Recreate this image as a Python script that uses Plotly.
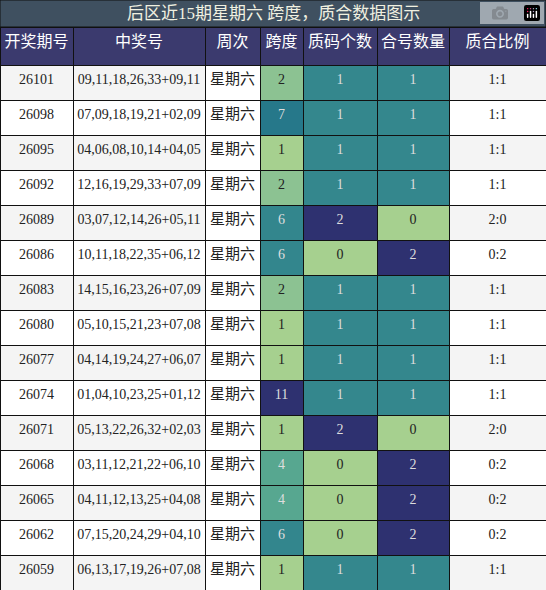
import plotly.graph_objects as go

headers = ["开奖期号", "中奖号", "周次", "跨度", "质码个数", "合号数量", "质合比例"]
periods = ["26101","26098","26095","26092","26089","26086","26083","26080","26077","26074","26071","26068","26065","26062","26059"]
numbers = ["09,11,18,26,33+09,11","07,09,18,19,21+02,09","04,06,08,10,14+04,05","12,16,19,29,33+07,09",
           "03,07,12,14,26+05,11","10,11,18,22,35+06,12","14,15,16,23,26+07,09","05,10,15,21,23+07,08",
           "04,14,19,24,27+06,07","01,04,10,23,25+01,12","05,13,22,26,32+02,03","03,11,12,21,22+06,10",
           "04,11,12,13,25+04,08","07,15,20,24,29+04,10","06,13,17,19,26+07,08"]
weekday = ["星期六"] * 15
span = [2,7,1,2,6,6,2,1,1,11,1,4,4,6,1]
prime = [1,1,1,1,2,0,1,1,1,1,2,0,0,0,1]
composite = [1,1,1,1,0,2,1,1,1,1,0,2,2,2,1]
ratio = [f"{p}:{c}" for p, c in zip(prime, composite)]

span_col = {1: "#a6d08f", 2: "#8cc292", 4: "#57a790", 6: "#33868d", 7: "#26788a", 11: "#2e3170"}
cnt_col = {0: "#a6d08f", 1: "#34878d", 2: "#2e3170"}
def txtc(c):
    return "#222222" if c in ("#a6d08f", "#8cc292") else "#dddddd"

rowbg = ["#f4f4f4" if i % 2 == 0 else "#ffffff" for i in range(15)]
sc = [span_col[v] for v in span]
pc = [cnt_col[v] for v in prime]
cc = [cnt_col[v] for v in composite]

H = 590
fonts = "Liberation Serif, Noto Sans CJK SC"
fig = go.Figure(go.Table(
    columnwidth=[73, 132, 55, 43, 74, 72, 97],
    header=dict(values=headers, fill_color="#3b3a6e", line_color="#111111", line_width=1,
                font=dict(color="white", size=16, family="Noto Sans CJK SC"), height=38, align="center"),
    cells=dict(values=[periods, numbers, weekday, span, prime, composite, ratio],
               fill_color=[rowbg, rowbg, ["#ffffff"] * 15, sc, pc, cc, rowbg],
               font=dict(family=fonts, size=[14, 14, 15, 14, 14, 14, 14],
                         color=["#222222", "#222222", "#222222", [txtc(c) for c in sc],
                                [txtc(c) for c in pc], [txtc(c) for c in cc], "#222222"]),
               line_color="#111111", line_width=1, height=35, align="center"),
    domain=dict(x=[0, 1], y=[0, 1 - 27 / H]),
))
fig.add_shape(type="rect", xref="paper", yref="paper", x0=0, x1=1, y0=1 - 27 / H, y1=1,
              fillcolor="#3f5060", line=dict(color="#111111", width=1), layer="above")
fig.add_annotation(text="后区近15期星期六 跨度，质合数据图示", xref="paper", yref="paper", x=0.5,
                   y=1 - 13.5 / H, yanchor="middle", showarrow=False,
                   font=dict(family=fonts, size=17, color="#f0f0e0"))
fig.update_layout(width=546, height=H, margin=dict(l=0, r=0, t=0, b=0, pad=0),
                  paper_bgcolor="white")
fig.write_html("out.html")
with open("out.html", encoding="utf-8") as f:
    html = f.read()
html = html.replace("<body>", '<body style="margin:0;overflow:hidden">', 1)
with open("out.html", "w", encoding="utf-8") as f:
    f.write(html)
